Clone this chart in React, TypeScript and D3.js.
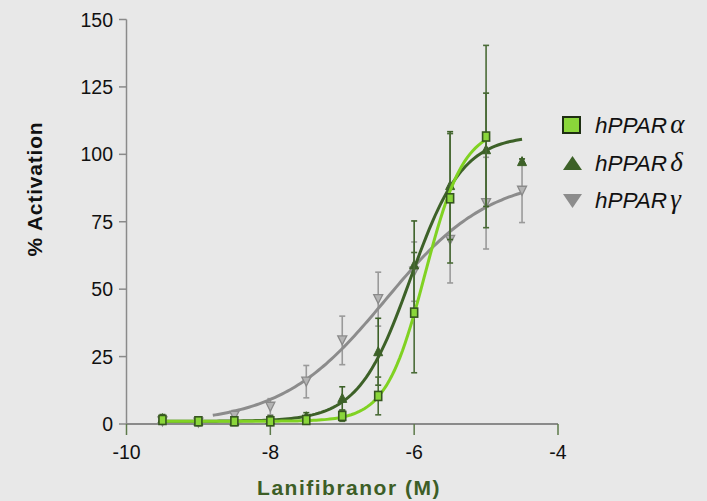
import React from "react";
import * as d3 from "d3";

const doses = [-9.5, -9, -8.5, -8, -7.5, -7, -6.5, -6, -5.5, -5, -4.5];

const alphaValues = [1.5, 1, 1, 1, 1.5, 3, 10.4, 41.3, 83.7, 106.6, null];
const alphaErrors = [1.5, 1.5, 1.5, 1.5, 1.5, 2, 7, 22.3, 24, 33.8, null];

const deltaValues = [2, 1, 1, 1.5, 2.7, 9.5, 26.8, 59, 88.4, 101.7, 97.3];
const deltaErrors = [1.5, 1.5, 1.5, 1.5, 1.5, 4.3, 12.4, 16.3, 20, 21, 1];

const gammaValues = [1, 0.5, 3, 6.4, 15.7, 31, 46.3, 56.5, 68.3, 81.9, 86.5];
const gammaErrors = [1, 1, 2, 3, 6, 9, 10, 11, 16, 17, 11.8];

// fitted dose-response parameters: [bottom, top, logEC50, hill, fromDose, toDose]
const alphaFit = [1, 110, -5.85, 1.6, -9.5, -5];
const deltaFit = [1, 107, -6.05, 1.2, -9.5, -4.5];
const gammaFit = [0, 92, -6.4, 0.6, -8.8, -4.5];

const xTicks = [-10, -8, -6, -4];
const yTicks = [0, 25, 50, 75, 100, 125, 150];

const seriesNames = ["hPPAR", "hPPAR", "hPPAR"];
const greekSymbols = ["\u03B1", "\u03B4", "\u03B3"];

const xTitle = "Lanifibranor (M)";
const yTitle = "% Activation";

const W = 707;
const H = 501;

const x = d3.scaleLinear().domain([-10, -4]).range([126.5, 558]);
const y = d3.scaleLinear().domain([0, 150]).range([424, 19.5]);

function hillCurve(fit: number[]) {
  const [bottom, top, ec, h, from, to] = fit;
  const n = 120;
  const pts: [number, number][] = [];
  for (let i = 0; i <= n; i++) {
    const d = from + ((to - from) * i) / n;
    const v = bottom + (top - bottom) / (1 + Math.pow(10, (ec - d) * h));
    pts.push([d, v]);
  }
  return pts;
}

const line = d3
  .line<[number, number]>()
  .x((d) => x(d[0]))
  .y((d) => y(d[1]));

const BG = "#e8e8e8";
const LIGHT = "#80d222";
const DARK = "#3d6128";
const GRAY = "#8c8c8c";
const FONT = "'Liberation Sans', Arial, sans-serif";

function ErrorBars({ values, errors, color }: { values: (number | null)[]; errors: (number | null)[]; color: string }) {
  return (
    <g stroke={color} strokeWidth={1.6}>
      {doses.map((d, i) => {
        const v = values[i];
        const e = errors[i];
        if (v == null || e == null) return null;
        const cx = x(d);
        const y1 = y(v + e);
        const y2 = y(Math.max(v - e, -1));
        return (
          <g key={i}>
            <line x1={cx} x2={cx} y1={y1} y2={y2} />
            <line x1={cx - 3} x2={cx + 3} y1={y1} y2={y1} />
            <line x1={cx - 3} x2={cx + 3} y1={y2} y2={y2} />
          </g>
        );
      })}
    </g>
  );
}

export default function App() {
  const alphaCurve = hillCurve(alphaFit);
  const deltaCurve = hillCurve(deltaFit);
  const gammaCurve = hillCurve(gammaFit);

  const legendRows = [0, 1, 2];
  const legendY = [125, 163, 200];

  return (
    <svg
      width={W}
      height={H}
      style={{ position: "absolute", left: 0, top: 0, display: "block" }}
    >
      <rect x={0} y={0} width={W} height={H} fill={BG} />

      {/* Y axis */}
      <line x1={x(-10)} x2={x(-10)} y1={y(0)} y2={y(150)} stroke="#8a8a8a" strokeWidth={1.5} />
      {yTicks.map((t) => (
        <g key={t}>
          <line x1={x(-10) - 7.5} x2={x(-10)} y1={y(t)} y2={y(t)} stroke="#8a8a8a" strokeWidth={1.5} />
          <text
            x={113}
            y={y(t)}
            dy="0.36em"
            textAnchor="end"
            fontFamily={FONT}
            fontSize={19.5}
            fill="#111"
          >
            {t}
          </text>
        </g>
      ))}

      {/* X axis */}
      <line x1={x(-10)} x2={x(-4)} y1={y(0)} y2={y(0)} stroke="#8a8a8a" strokeWidth={2} />
      {xTicks.map((t) => (
        <g key={t}>
          <line x1={x(t)} x2={x(t)} y1={y(0)} y2={y(0) + 11} stroke="#5d7a4a" strokeWidth={1.5} />
          <text
            x={x(t)}
            y={459}
            textAnchor="middle"
            fontFamily={FONT}
            fontSize={19.5}
            fill="#111"
          >
            {t}
          </text>
        </g>
      ))}

      <text
        x={349}
        y={495}
        textAnchor="middle"
        fontFamily={FONT}
        fontSize={21}
        fontWeight="bold"
        fill="#3d5e26"
        letterSpacing={1.5}
      >
        {xTitle}
      </text>
      <text
        transform={`translate(42,189) rotate(-90)`}
        textAnchor="middle"
        fontFamily={FONT}
        fontSize={21}
        fontWeight="bold"
        fill="#111"
        letterSpacing={0.8}
      >
        {yTitle}
      </text>

      {/* gamma */}
      <ErrorBars values={gammaValues} errors={gammaErrors} color="#9a9a9a" />
      <path d={line(gammaCurve) || ""} fill="none" stroke={GRAY} strokeWidth={3} />
      {doses.map((d, i) => {
        const v = gammaValues[i];
        if (v == null) return null;
        const cx = x(d);
        const cy = y(v);
        return (
          <path
            key={i}
            d={`M${cx - 4.5},${cy - 4.5}L${cx + 4.5},${cy - 4.5}L${cx},${cy + 4.5}Z`}
            fill="#b4b4b4"
            stroke="#8a8a8a"
            strokeWidth={1.3}
          />
        );
      })}

      {/* delta */}
      <ErrorBars values={deltaValues} errors={deltaErrors} color={DARK} />
      <path d={line(deltaCurve) || ""} fill="none" stroke={DARK} strokeWidth={3} />
      {doses.map((d, i) => {
        const v = deltaValues[i];
        if (v == null) return null;
        const cx = x(d);
        const cy = y(v);
        return (
          <path
            key={i}
            d={`M${cx - 4.5},${cy + 4}L${cx + 4.5},${cy + 4}L${cx},${cy - 5}Z`}
            fill={DARK}
            stroke={DARK}
            strokeWidth={1}
          />
        );
      })}

      {/* alpha */}
      <ErrorBars values={alphaValues} errors={alphaErrors} color="#4a6b37" />
      <path d={line(alphaCurve) || ""} fill="none" stroke={LIGHT} strokeWidth={3} />
      {doses.map((d, i) => {
        const v = alphaValues[i];
        if (v == null) return null;
        const cx = x(d);
        const cy = y(v);
        return (
          <rect
            key={i}
            x={cx - 3.5}
            y={cy - 4.5}
            width={7}
            height={9}
            fill="#8ad63a"
            stroke="#36561f"
            strokeWidth={1.6}
          />
        );
      })}

      {/* legend */}
      {legendRows.map((r) => {
        const ly = legendY[r];
        let marker;
        if (r === 0) {
          marker = <rect x={563} y={ly - 8} width={17} height={16} fill="#8ad63a" stroke="#1e2e12" strokeWidth={2} />;
        } else if (r === 1) {
          marker = <path d={`M563,${ly + 7}L582,${ly + 7}L572.5,${ly - 7}Z`} fill={DARK} />;
        } else {
          marker = <path d={`M563,${ly - 6}L582,${ly - 6}L572.5,${ly + 8}Z`} fill={GRAY} />;
        }
        return (
          <g key={r}>
            {marker}
            <text x={595} y={ly + 8} fontFamily={FONT} fontSize={22.5} fontStyle="italic" fill="#111">
              {seriesNames[r]}
              <tspan dx={3} fontFamily="'Liberation Serif', 'DejaVu Serif', serif" fontSize={27}>
                {greekSymbols[r]}
              </tspan>
            </text>
          </g>
        );
      })}
    </svg>
  );
}
